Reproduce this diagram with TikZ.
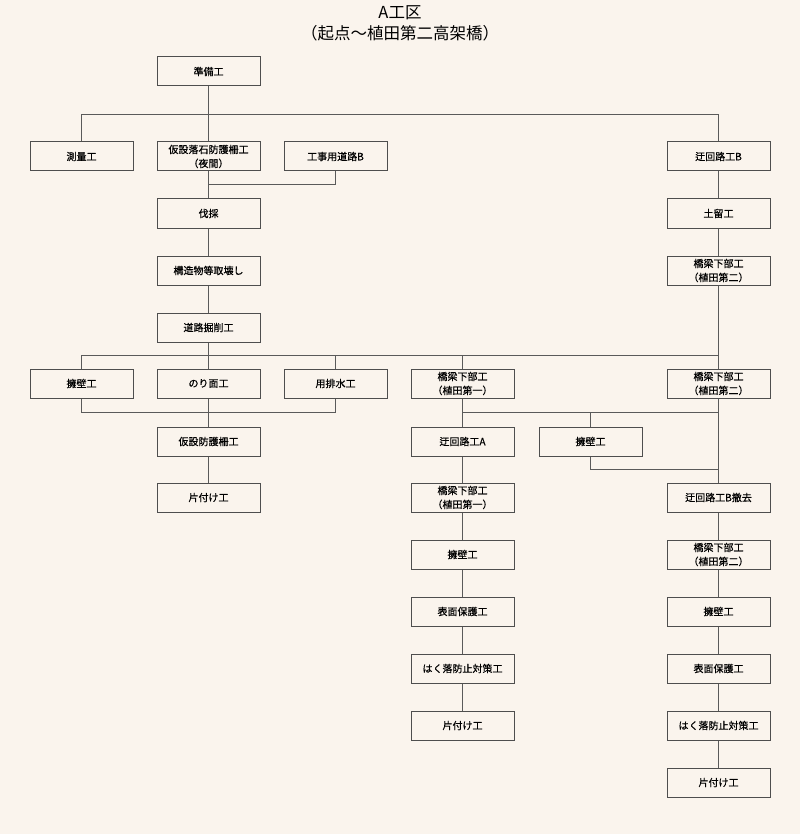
\documentclass[tikz,border=0pt]{standalone}
\usepackage{fontspec}
\newfontfamily\jp{Noto Sans CJK JP}
\newfontfamily\jpb[FakeBold=0.6]{Noto Sans CJK JP}
\definecolor{bgc}{HTML}{FAF4ED}
\definecolor{linec}{HTML}{5A5A5A}
\definecolor{boxc}{HTML}{4E4E4E}
\tikzset{
  box/.style={draw=boxc, line width=1pt, fill=bgc, minimum width=103pt, minimum height=29pt,
    inner sep=0pt, align=center, font=\jpb\fontsize{10}{14}\selectfont, text=black},
  conn/.style={draw=linec, line width=0.9pt},
  ttl/.style={font=\jp\fontsize{16.5}{20}\selectfont, text=black, inner sep=0pt}
}
\begin{document}
\begin{tikzpicture}[x=1pt,y=-1pt]
\fill[bgc] (0,0) rectangle (800,834);
\useasboundingbox (0,0) rectangle (800,834);
% title
\node[ttl] (t1) at (400,13) {A工区};
\node[ttl] (t2) at (400,33) {（起点～植田第二高架橋）};
% bus coordinates
\coordinate (b1) at (0,114);
\coordinate (b2) at (0,184);
\coordinate (b3) at (0,355);
\coordinate (b4) at (0,412);
\coordinate (b5) at (0,469);
% boxes
\node[box] (pre) at (208.5,71.5) {準備工};
\node[box] (sok) at (81.5,156.5) {測量工};
\node[box] (kas) at (208.5,156.5) {仮設落石防護柵工\\（夜間）};
\node[box] (kou) at (335.5,156.5) {工事用道路B};
\node[box] (ukB) at (718.5,156.5) {迂回路工B};
\node[box] (bas) at (208.5,213.5) {伐採};
\node[box] (dom) at (718.5,213.5) {土留工};
\node[box] (kzo) at (208.5,270.5) {構造物等取壊し};
\node[box] (k2a) at (718.5,270.5) {橋梁下部工\\（植田第二）};
\node[box] (dro) at (208.5,327.5) {道路掘削工};
\node[box] (yoL) at (81.5,383.5) {擁壁工};
\node[box] (nor) at (208.5,383.5) {のり面工};
\node[box] (yoh) at (335.5,383.5) {用排水工};
\node[box] (k1a) at (462.5,383.5) {橋梁下部工\\（植田第一）};
\node[box] (k2b) at (718.5,383.5) {橋梁下部工\\（植田第二）};
\node[box] (bgo) at (208.5,441.5) {仮設防護柵工};
\node[box] (ukA) at (462.5,441.5) {迂回路工A};
\node[box] (yo2) at (590.5,441.5) {擁壁工};
\node[box] (ka1) at (208.5,497.5) {片付け工};
\node[box] (k1b) at (462.5,497.5) {橋梁下部工\\（植田第一）};
\node[box] (ukT) at (718.5,497.5) {迂回路工B撤去};
\node[box] (yo3) at (462.5,554.5) {擁壁工};
\node[box] (k2c) at (718.5,554.5) {橋梁下部工\\（植田第二）};
\node[box] (hy1) at (462.5,611.5) {表面保護工};
\node[box] (yo4) at (718.5,611.5) {擁壁工};
\node[box] (ha1) at (462.5,668.5) {はく落防止対策工};
\node[box] (hy2) at (718.5,668.5) {表面保護工};
\node[box] (ka2) at (462.5,725.5) {片付け工};
\node[box] (ha2) at (718.5,725.5) {はく落防止対策工};
\node[box] (ka3) at (718.5,782.5) {片付け工};
% connectors
\draw[conn] (pre.south) -- (kas.north);
\draw[conn] (sok.north) -- (sok.north |- b1) -- (ukB.north |- b1) -- (ukB.north);
\draw[conn] (kou.south) -- (kou.south |- b2) -- (kas.south |- b2);
\draw[conn] (kas.south) -- (bas.north);
\draw[conn] (bas.south) -- (kzo.north);
\draw[conn] (kzo.south) -- (dro.north);
\draw[conn] (dro.south) -- (nor.north);
\draw[conn] (yoL.north) -- (yoL.north |- b3) -- (k2b.north |- b3);
\draw[conn] (yoh.north) -- (yoh.north |- b3);
\draw[conn] (k1a.north) -- (k1a.north |- b3);
\draw[conn] (ukB.south) -- (dom.north);
\draw[conn] (dom.south) -- (k2a.north);
\draw[conn] (k2a.south) -- (k2b.north);
\draw[conn] (yoL.south) -- (yoL.south |- b4) -- (yoh.south |- b4) -- (yoh.south);
\draw[conn] (nor.south) -- (bgo.north);
\draw[conn] (bgo.south) -- (ka1.north);
\draw[conn] (k1a.south) -- (ukA.north);
\draw[conn] (k1a.south |- b4) -- (k2b.south |- b4);
\draw[conn] (yo2.north) -- (yo2.north |- b4);
\draw[conn] (k2b.south) -- (ukT.north);
\draw[conn] (yo2.south) -- (yo2.south |- b5) -- (ukT.north |- b5);
\draw[conn] (ukA.south) -- (k1b.north);
\draw[conn] (k1b.south) -- (yo3.north);
\draw[conn] (yo3.south) -- (hy1.north);
\draw[conn] (hy1.south) -- (ha1.north);
\draw[conn] (ha1.south) -- (ka2.north);
\draw[conn] (ukT.south) -- (k2c.north);
\draw[conn] (k2c.south) -- (yo4.north);
\draw[conn] (yo4.south) -- (hy2.north);
\draw[conn] (hy2.south) -- (ha2.north);
\draw[conn] (ha2.south) -- (ka3.north);
\end{tikzpicture}
\end{document}
